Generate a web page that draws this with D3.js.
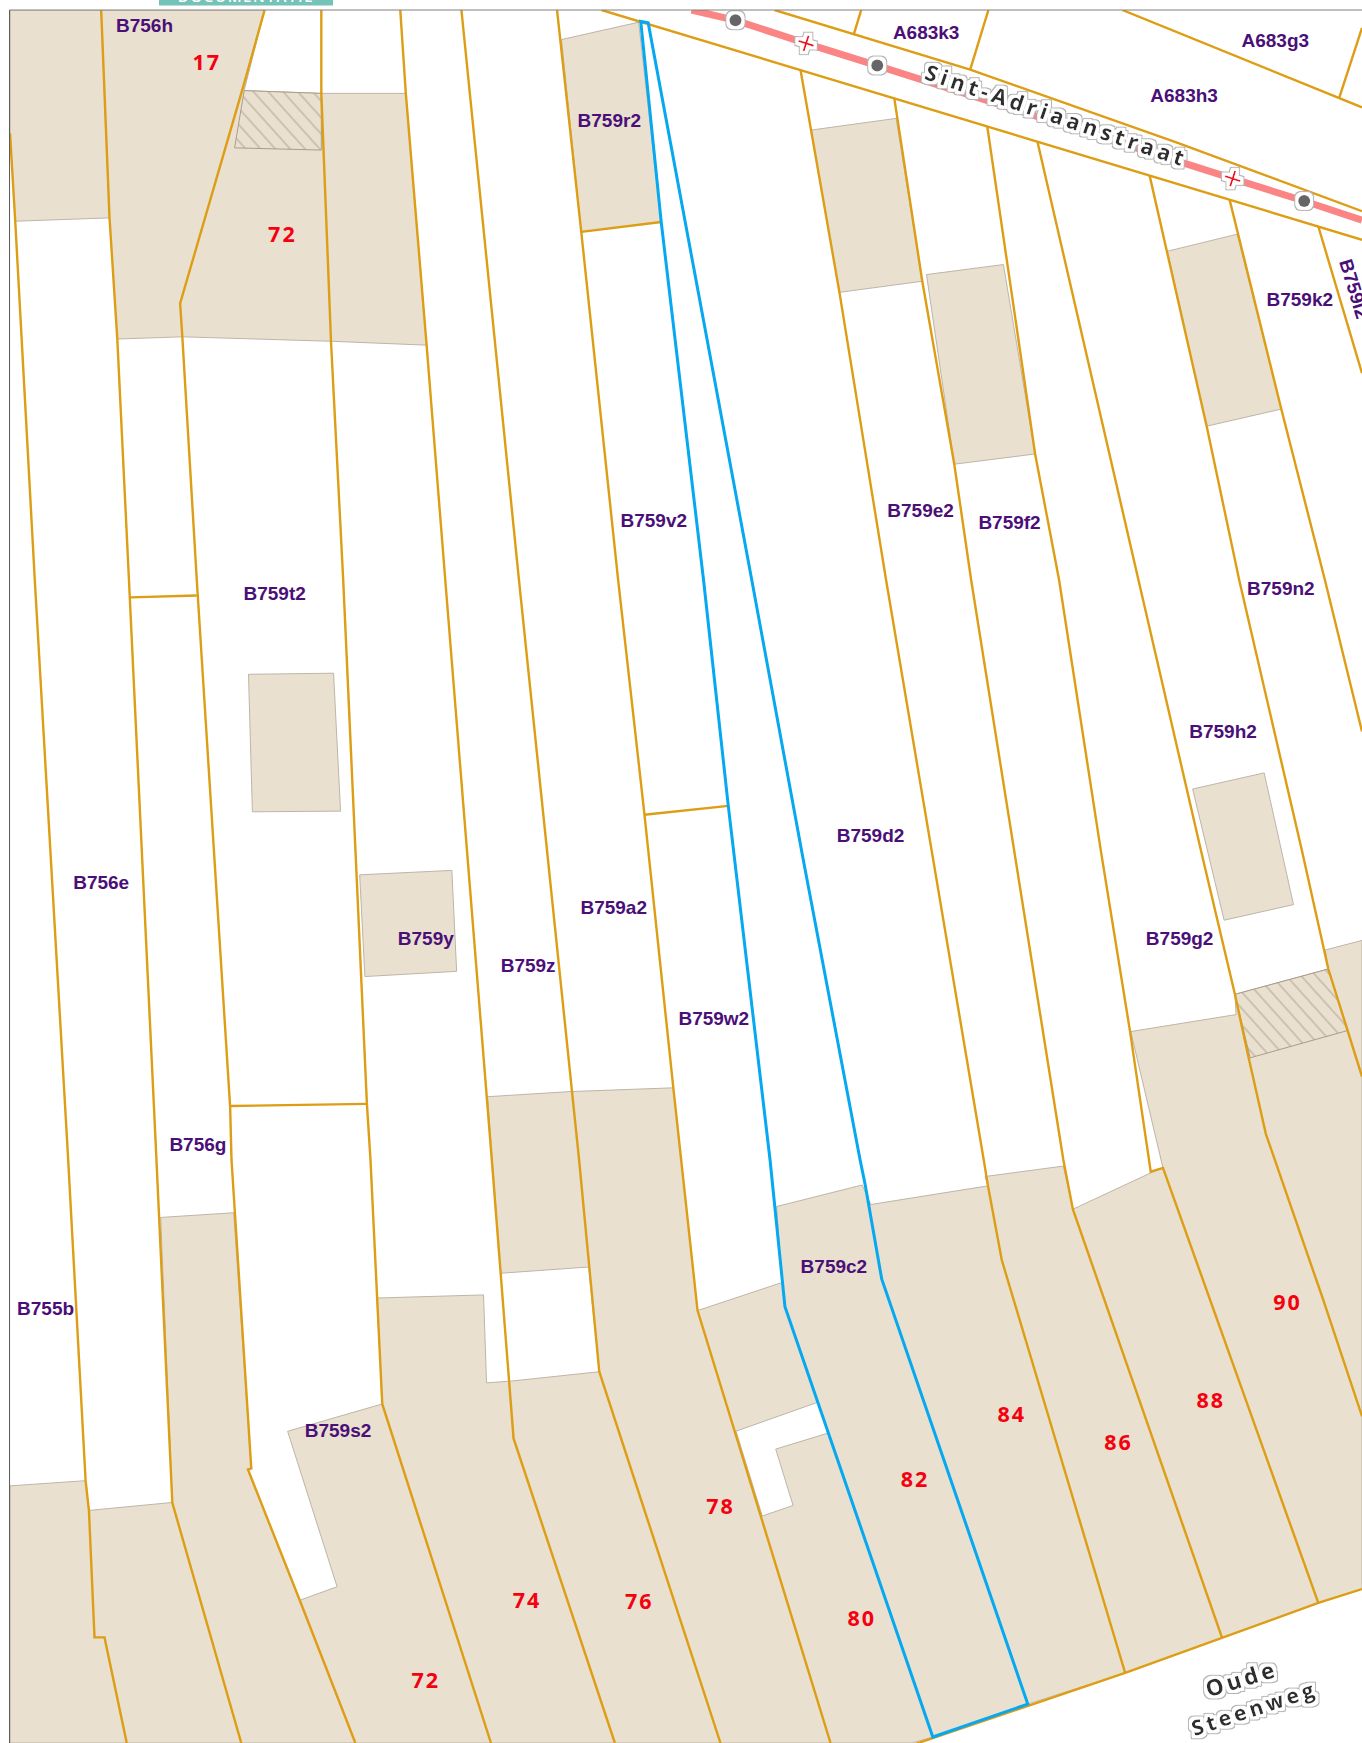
<!DOCTYPE html>
<html>
<head>
<meta charset="utf-8">
<title>Kadasterplan Oude Steenweg</title>
<script src="https://cdn.jsdelivr.net/npm/d3@7"></script>
<style>
  html, body { margin: 0; padding: 0; background: #fff; }
  svg { display: block; }
  .parcel-label { font-family: "Liberation Sans", Arial, sans-serif; font-weight: 700; font-size: 19px; fill: #4b0f78; text-anchor: middle; dominant-baseline: central; }
  .house-number { font-family: "Open Sans", sans-serif; font-weight: 700; font-size: 21.5px; letter-spacing: 2px; fill: #f5000f; text-anchor: middle; dominant-baseline: central; }
  .street-name { font-family: "Open Sans", sans-serif; font-weight: 700; fill: #2e2e2e; text-anchor: middle; dominant-baseline: central; }
</style>
</head>
<body>
<svg></svg>
<script>
const buildings = [
    [[9, 9], [91, 9], [98.5, 196], [13.7, 199], [9, 120]],
    [[91, 9], [238, 9], [219.6, 81.5], [289, 84], [365, 84], [383.7, 310.5], [297.7, 307], [164, 303], [105.5, 305], [98.5, 196]],
    [[505, 35.6], [574.4, 20], [594.7, 199.7], [522.8, 208.6]],
    [[729.7, 117], [806, 106.5], [829.5, 253], [755, 263]],
    [[833.3, 247], [902.5, 238], [931, 408.4], [858.3, 417.6]],
    [[1050, 226], [1112.7, 210.7], [1152.4, 368], [1085.3, 383.4]],
    [[223.5, 606.6], [300, 605.6], [306.3, 729.7], [227, 730.3]],
    [[323.5, 787], [406.4, 783], [410.7, 873.8], [328.2, 878.5]],
    [[1072.7, 709.8], [1137, 695.3], [1163.4, 813.8], [1101, 827.8]]
];

const backyards = [
    [9, 1568], [9, 1336.7], [77, 1332], [80, 1358.8], [155, 1351.6], [144.5, 1095.2], [210.2, 1091],
    [226, 1321], [223, 1322], [269.6, 1439.6], [303.2, 1427.4], [258.7, 1287.6], [343.8, 1263],
    [339, 1167.7], [434.9, 1164.9], [437.6, 1244], [459, 1242.5], [539, 1234], [529.4, 1139.8],
    [450.5, 1145.4], [438.4, 986.6], [512.6, 982], [605.6, 978.6], [627.4, 1179], [703.2, 1153.8],
    [698.5, 1085.4], [775.5, 1066], [783.2, 1083.6], [888.6, 1066.8], [886, 1058.4], [956.4, 1049],
    [965, 1087.8], [1035.3, 1055], [1046, 1050.7], [1017, 928], [1111.8, 912.7], [1110.7, 894.5],
    [1194.7, 871.7], [1192, 854.6], [1225, 846], [1225, 1429.5], [1185.7, 1442], [1098, 1474],
    [1012, 1505], [924.4, 1533], [839, 1562.6], [820, 1568]
];

const yardNotch = [[662, 1287.5], [735.6, 1261.4], [745.4, 1289], [697.7, 1303.6], [713.3, 1354.3], [685.6, 1363.8]];

const hatched = [
    [[219.6, 81.5], [289, 84], [289, 135], [211, 133]],
    [[1110.7, 894.5], [1194.7, 871.7], [1212.3, 927], [1124.4, 951.6]]
];

const parcelLines = [
    [[9, 120], [13.7, 199], [31.3, 522], [61.3, 1043], [77, 1332], [80, 1359], [85, 1473], [94, 1473], [114, 1568]],
    [[91, 9], [98.5, 196], [105.5, 305], [116, 522], [140.7, 1043], [155, 1352], [217, 1568]],
    [[238, 9], [219.6, 75], [162, 273], [164, 303], [177, 522], [207, 996], [208.2, 1043], [226, 1321], [223, 1322], [269.6, 1439.6], [319.6, 1568]],
    [[289, 9], [289, 84], [297.7, 307], [308.7, 522], [330, 993], [333.2, 1043], [343.8, 1263], [441.6, 1568]],
    [[360, 9], [365, 84], [383.7, 310.5], [400.5, 522], [442.3, 1043], [461.9, 1294], [553, 1568]],
    [[415, 9], [466.8, 522], [520.8, 1043], [539, 1234], [648, 1568]],
    [[501, 9], [522.8, 208.6], [556, 522], [579.5, 731.4], [605.6, 978.6], [627.4, 1179], [747, 1568]],
    [[720, 63], [755, 263], [797, 522], [884.8, 1043.5], [888.6, 1066.8], [901, 1133.5], [1012, 1505]],
    [[804.3, 88], [829.5, 253], [858.3, 417.6], [873.5, 522], [956.4, 1043.5], [965, 1088], [1099, 1473]],
    [[888, 114], [931, 408.4], [952.6, 522], [990, 764.5], [1016.4, 928], [1035, 1054], [1046, 1050.7], [1185.7, 1442]],
    [[933, 127], [1024, 522], [1080, 764.5], [1110.7, 894.5], [1122.7, 950], [1138.5, 1020], [1190, 1169], [1225, 1274]],
    [[1034, 158], [1085.3, 383.4], [1114.6, 522], [1170.8, 764.5], [1194.7, 871.7], [1212, 927], [1225, 968.5]],
    [[1106, 180], [1152.4, 368], [1191.7, 522], [1225, 658]],
    [[1185.8, 204], [1225, 335.7]],
    [[117, 537.4], [177, 535.7]],
    [[206.3, 995], [330, 993]],
    [[522.8, 208.6], [594.7, 199.7]],
    [[579.5, 733], [655, 725]],
    [[541, 9], [1225, 215.7]],
    [[696.6, 9], [872.6, 62.6], [1058, 128], [1225, 190]],
    [[820, 1570], [1012, 1505], [1185.7, 1442], [1225, 1429.5]],
    [[774.6, 9], [767.7, 31.6]],
    [[889, 9], [872.6, 62.6]],
    [[1009.4, 9], [1225, 96.5]],
    [[1225, 25], [1204.5, 88]]
];

const selectedParcel = [
    [576.3, 19.3], [594.7, 199.7], [632.8, 522], [655, 724.7], [692.6, 1043.5], [706, 1175.5], [839, 1562.6],
    [924.4, 1533], [793, 1150.5], [778, 1065], [773.6, 1043.5], [722, 771], [676.2, 522], [583, 20.6]
];

const roadAxis = [[622, 9], [661.5, 18.3], [725, 39], [789, 59], [1108.7, 160.7], [1173, 180.8], [1225, 198]];
const roadNodes = [[661.5, 18.3], [789, 59], [1173, 180.8]];
const roadCrosses = [[725, 39], [1108.7, 160.7]];

const parcelNames = ['B756h', 'B759r2', 'A683k3', 'A683g3', 'A683h3', 'B759k2', 'B759v2', 'B759e2', 'B759f2', 'B759n2', 'B759t2', 'B759h2', 'B759d2', 'B756e', 'B759a2', 'B759y', 'B759g2', 'B759z', 'B759w2', 'B756g', 'B759c2', 'B755b', 'B759s2'];
const parcelX = [130, 548, 833, 1147, 1065, 1169, 588, 828, 908, 1152, 247, 1100, 783, 91, 552, 383, 1061, 475, 642, 178, 750, 41, 304];
const parcelY = [23, 108, 29, 36, 86, 269, 468, 459, 470, 529, 534, 658, 752, 794, 816, 844, 844, 869, 916, 1030, 1139, 1177, 1287];

const houseNumbers = ['17', '72', '72', '74', '76', '78', '80', '82', '84', '86', '88', '90'];
const houseX = [186, 254, 383, 474, 575, 648, 775, 823, 910, 1006, 1089, 1158];
const houseY = [55.5, 210, 1511, 1438.5, 1439.5, 1354.5, 1455, 1330, 1272, 1297, 1259, 1170.5];

const streets = [
    { name: 'Sint-Adriaanstraat', x: 950.6, y: 103.5, angle: 18.7, size: 21.5, spacing: 4.3 },
    { name: 'Oude', x: 1116.5, y: 1510, angle: -17, size: 22.5, spacing: 3.4 },
    { name: 'Steenweg', x: 1128, y: 1536.5, angle: -18.3, size: 21, spacing: 3.7 }
];

const width = 1362;
const height = 1743;
const tan = '#e9e0cf';
const edge = '#bdb5a8';
const orange = '#dd9d14';

const x = d3.scaleLinear().domain([0, 1225]).range([0, width]);
const y = d3.scaleLinear().domain([0, 1568]).range([0, height]);
const line = d3.line().x(d => x(d[0])).y(d => y(d[1]));
const ring = d3.line().x(d => x(d[0])).y(d => y(d[1])).curve(d3.curveLinearClosed);

const svg = d3.select('svg').attr('width', width).attr('height', height);
const defs = svg.append('defs');

defs.append('clipPath').attr('id', 'frame')
    .append('rect').attr('x', x(8.6)).attr('y', y(9)).attr('width', width).attr('height', height);

defs.append('clipPath').attr('id', 'tab')
    .append('rect').attr('x', 159).attr('y', 0).attr('width', 174).attr('height', 5.5);

const hatch = defs.append('pattern').attr('id', 'hatch')
    .attr('patternUnits', 'userSpaceOnUse')
    .attr('width', 11).attr('height', 11)
    .attr('patternTransform', 'rotate(48)');
hatch.append('line').attr('x1', 0).attr('x2', 11).attr('y1', 5).attr('y2', 5)
    .attr('stroke', '#a99d89').attr('stroke-width', 0.9);

// white halo with a thin grey rim round the street names and road symbols
const halo = defs.append('filter').attr('id', 'halo')
    .attr('x', '-30%').attr('y', '-30%').attr('width', '160%').attr('height', '160%');
halo.append('feMorphology').attr('in', 'SourceAlpha').attr('operator', 'dilate').attr('radius', 3.4).attr('result', 'inner');
halo.append('feMorphology').attr('in', 'SourceAlpha').attr('operator', 'dilate').attr('radius', 4.2).attr('result', 'outer');
halo.append('feFlood').attr('flood-color', '#fff').attr('result', 'white');
halo.append('feComposite').attr('in', 'white').attr('in2', 'inner').attr('operator', 'in').attr('result', 'whiteHalo');
halo.append('feFlood').attr('flood-color', '#b5b5b5').attr('result', 'grey');
halo.append('feComposite').attr('in', 'grey').attr('in2', 'outer').attr('operator', 'in').attr('result', 'greyHalo');
const merge = halo.append('feMerge');
merge.append('feMergeNode').attr('in', 'greyHalo');
merge.append('feMergeNode').attr('in', 'whiteHalo');
merge.append('feMergeNode').attr('in', 'SourceGraphic');

// tab of the page header, cut off by the window
const tab = svg.append('g');
tab.append('rect').attr('x', 159).attr('y', 0).attr('width', 174).attr('height', 5.5).attr('fill', '#74c2b8');
tab.append('text').text('DOCUMENTATIE')
    .attr('clip-path', 'url(#tab)')
    .attr('x', 246).attr('y', 2)
    .attr('text-anchor', 'middle')
    .attr('font-family', 'Open Sans, sans-serif').attr('font-weight', 600).attr('font-size', 15)
    .attr('letter-spacing', 1.6).attr('fill', '#fff');

const map = svg.append('g').attr('clip-path', 'url(#frame)');

map.append('g').selectAll('path')
    .data(buildings.concat([backyards]))
    .enter().append('path')
    .attr('d', ring)
    .attr('fill', tan)
    .attr('stroke', edge)
    .attr('stroke-width', 1);

map.append('path')
    .attr('d', ring(yardNotch))
    .attr('fill', '#fff')
    .attr('stroke', edge)
    .attr('stroke-width', 1);

map.append('g').selectAll('path')
    .data(hatched)
    .enter().append('path')
    .attr('d', ring)
    .attr('fill', tan);
map.append('g').selectAll('path')
    .data(hatched)
    .enter().append('path')
    .attr('d', ring)
    .attr('fill', 'url(#hatch)')
    .attr('stroke', '#a99d89')
    .attr('stroke-width', 1);

map.append('g').selectAll('path')
    .data(parcelLines)
    .enter().append('path')
    .attr('d', line)
    .attr('fill', 'none')
    .attr('stroke', orange)
    .attr('stroke-width', 2.4);

map.append('path')
    .attr('d', ring(selectedParcel))
    .attr('fill', 'none')
    .attr('stroke', '#06a8f0')
    .attr('stroke-width', 3);

map.append('path')
    .attr('d', line(roadAxis))
    .attr('fill', 'none')
    .attr('stroke', '#fb8484')
    .attr('stroke-width', 7);

const symbols = map.append('g').attr('filter', 'url(#halo)');
symbols.selectAll('circle')
    .data(roadNodes)
    .enter().append('circle')
    .attr('cx', d => x(d[0]))
    .attr('cy', d => y(d[1]))
    .attr('r', 6)
    .attr('fill', '#666');
symbols.selectAll('path')
    .data(roadCrosses)
    .enter().append('path')
    .attr('d', d => `M-8,0H8M0,-8V8`)
    .attr('transform', d => `translate(${x(d[0])},${y(d[1])}) rotate(18)`)
    .attr('stroke', '#f01020')
    .attr('stroke-width', 2)
    .attr('fill', 'none');

map.append('g').selectAll('text')
    .data(parcelNames)
    .enter().append('text')
    .attr('class', 'parcel-label')
    .attr('x', (d, i) => x(parcelX[i]))
    .attr('y', (d, i) => y(parcelY[i]))
    .text(d => d);

map.append('text')
    .attr('class', 'parcel-label')
    .attr('transform', `translate(${x(1218)},${y(260)}) rotate(73)`)
    .text('B759l2');

map.append('g').selectAll('text')
    .data(houseNumbers)
    .enter().append('text')
    .attr('class', 'house-number')
    .attr('x', (d, i) => x(houseX[i]))
    .attr('y', (d, i) => y(houseY[i]))
    .text(d => d);

map.append('g').attr('filter', 'url(#halo)').selectAll('text')
    .data(streets)
    .enter().append('text')
    .attr('class', 'street-name')
    .attr('transform', d => `translate(${x(d.x)},${y(d.y)}) rotate(${d.angle})`)
    .attr('font-size', d => d.size)
    .attr('letter-spacing', d => d.spacing)
    .text(d => d.name);

// frame of the map window
svg.append('line').attr('x1', x(8.6)).attr('x2', width).attr('y1', y(9)).attr('y2', y(9)).attr('stroke', '#808080').attr('stroke-width', 1);
svg.append('line').attr('x1', x(8.6)).attr('x2', x(8.6)).attr('y1', y(9)).attr('y2', height).attr('stroke', '#555').attr('stroke-width', 1);
</script>
</body>
</html>
